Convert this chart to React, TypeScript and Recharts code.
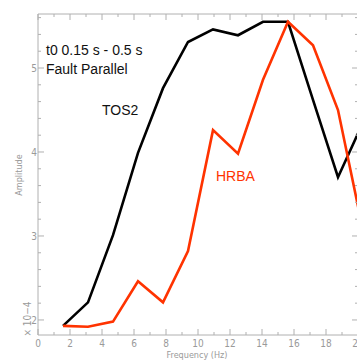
import React from 'react';
import { LineChart, Line, XAxis, YAxis, Customized } from 'recharts';

const freqs = [1.5625, 3.125, 4.6875, 6.25, 7.8125, 9.375, 10.9375, 12.5, 14.0625, 15.625, 17.1875, 18.75, 20.3125];
const tos2 = [1.93, 2.21, 3.01, 3.99, 4.76, 5.31, 5.46, 5.39, 5.55, 5.55, 4.62, 3.7, 4.35];
const hrba = [1.93, 1.92, 1.98, 2.46, 2.21, 2.82, 4.26, 3.98, 4.86, 5.55, 5.27, 4.5, 3.07];
const xTicks = [0, 1, 2, 3, 4, 5, 6, 7, 8, 9, 10, 11, 12, 13, 14, 15, 16, 17, 18, 19, 20];
const yTicks = [2, 2.2, 2.4, 2.6, 2.8, 3, 3.2, 3.4, 3.6, 3.8, 4, 4.2, 4.4, 4.6, 4.8, 5, 5.2, 5.4, 5.6];

const data = freqs.map((f, i) => ({ f, tos2: tos2[i], hrba: hrba[i] }));

const AXIS = '#b0b0b0';
const LABEL = '#9a9a9a';
const RED = '#ff3300';
const TICKFONT = '"Liberation Sans Narrow", "DejaVu Sans Condensed", "Liberation Sans", sans-serif';
const FONT = '"Liberation Sans", Arial, sans-serif';

const isMajor = (v: number) => Math.abs(v - Math.round(v)) < 1e-6;

const BottomTick = (props: any) => {
  const { x, y, payload } = props;
  const v = payload.value;
  const major = v % 2 === 0;
  return (
    <g>
      <line x1={x} x2={x} y1={y} y2={y - (major ? 6 : 3)} stroke={AXIS} />
      {major && (
        <text x={x} y={y + 12} textAnchor="middle" fontSize={10} fill={LABEL} fontFamily={TICKFONT}>
          {v}
        </text>
      )}
    </g>
  );
};

const TopTick = (props: any) => {
  const { x, y, payload } = props;
  const major = payload.value % 2 === 0;
  return <line x1={x} x2={x} y1={y} y2={y + (major ? 6 : 3)} stroke={AXIS} />;
};

const LeftTick = (props: any) => {
  const { x, y, payload } = props;
  const v = payload.value;
  const major = isMajor(v);
  return (
    <g>
      <line x1={x} x2={x + (major ? 6 : 3)} y1={y} y2={y} stroke={AXIS} />
      {major && (
        <text x={x - 1} y={y + 4} textAnchor="end" fontSize={10} fill={LABEL} fontFamily={TICKFONT}>
          {Math.round(v)}
        </text>
      )}
    </g>
  );
};

const RightTick = (props: any) => {
  const { x, y, payload } = props;
  const major = isMajor(payload.value);
  return <line x1={x} x2={x - (major ? 6 : 3)} y1={y} y2={y} stroke={AXIS} />;
};

const Annotations = () => (
  <g>
    <text x={46} y={55} fontSize={14} fill="#111" fontFamily={FONT}>t0 0.15 s - 0.5 s</text>
    <text x={46} y={74} fontSize={14} fill="#111" fontFamily={FONT}>Fault Parallel</text>
    <text x={102} y={115} fontSize={14} fill="#111" fontFamily={FONT}>TOS2</text>
    <text x={216} y={181} fontSize={14} fill={RED} fontFamily={FONT}>HRBA</text>
    <text x={197} y={358} fontSize={9} fill={LABEL} textAnchor="middle" fontFamily={TICKFONT}>Frequency (Hz)</text>
    <text x={22} y={175} fontSize={9} fill={LABEL} textAnchor="middle" fontFamily={TICKFONT} transform="rotate(-90 22 175)">Amplitude</text>
    <text x={31} y={319} fontSize={10} fill={LABEL} textAnchor="middle" fontFamily={TICKFONT} transform="rotate(-90 31 319)">× 10−4</text>
  </g>
);

export default function App() {
  return (
    <div style={{ position: 'fixed', left: 0, top: 0, width: 357, height: 360, overflow: 'hidden', background: '#fff' }}>
      <LineChart width={380} height={360} data={data} margin={{ top: 0, right: 0, bottom: 0, left: 0 }}>
        <XAxis
          xAxisId="b"
          dataKey="f"
          type="number"
          domain={[0, 20]}
          ticks={xTicks}
          allowDataOverflow
          height={25}
          stroke={AXIS}
          tickLine={false}
          tickSize={0}
          tickMargin={0}
          tick={<BottomTick />}
          interval={0}
        />
        <XAxis
          xAxisId="t"
          orientation="top"
          dataKey="f"
          type="number"
          domain={[0, 20]}
          ticks={xTicks}
          allowDataOverflow
          height={14}
          stroke={AXIS}
          tickLine={false}
          tickSize={0}
          tickMargin={0}
          tick={<TopTick />}
          interval={0}
        />
        <YAxis
          yAxisId="l"
          type="number"
          domain={[1.821, 5.643]}
          ticks={yTicks}
          allowDataOverflow
          width={38}
          stroke={AXIS}
          tickLine={false}
          tickSize={0}
          tickMargin={0}
          tick={<LeftTick />}
          interval={0}
        />
        <YAxis
          yAxisId="r"
          orientation="right"
          type="number"
          domain={[1.821, 5.643]}
          ticks={yTicks}
          allowDataOverflow
          width={22}
          stroke={AXIS}
          tickLine={false}
          tickSize={0}
          tickMargin={0}
          tick={<RightTick />}
          interval={0}
        />
        <Line xAxisId="b" yAxisId="l" dataKey="tos2" stroke="#000" strokeWidth={2.6} dot={false} isAnimationActive={false} strokeLinejoin="miter" />
        <Line xAxisId="b" yAxisId="l" dataKey="hrba" stroke={RED} strokeWidth={2.6} dot={false} isAnimationActive={false} strokeLinejoin="miter" />
        <Customized component={Annotations} />
      </LineChart>
    </div>
  );
}
